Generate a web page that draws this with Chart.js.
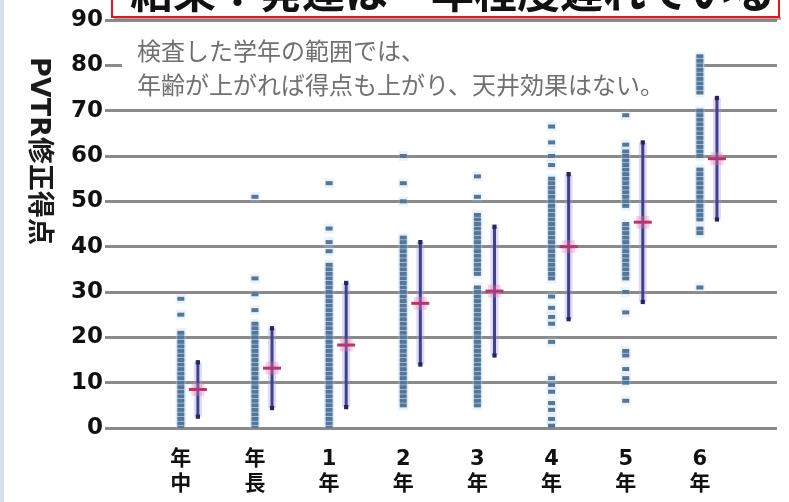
<!DOCTYPE html>
<html lang="ja">
<head>
<meta charset="utf-8">
<script src="https://cdn.jsdelivr.net/npm/chart.js@4/dist/chart.umd.min.js"></script>
<style>
  html, body { margin: 0; padding: 0; background: #fff; }
  #wrap { width: 789px; height: 502px; position: relative; }
</style>
</head>
<body>
<div id="wrap"><canvas id="chart"></canvas></div>
<script>
// grade labels on the x axis
const grades = ['年中', '年長', '1年', '2年', '3年', '4年', '5年', '6年'];

// individual scores per grade
const dotsNenchu = [0, 1, 2, 3, 4, 5, 6, 7, 8, 9, 10, 11, 12, 13, 14, 15, 16, 17, 18, 19, 20, 21, 25, 28.5];
const dotsNencho = [0, 1, 2, 3, 4, 5, 6, 7, 8, 9, 10, 11, 12, 13, 14, 15, 16, 17, 18, 19, 20, 21, 22, 23, 26, 29.5, 33, 51];
const dots1 = [0, 1, 2, 3, 4, 5, 6, 7, 8, 9, 10, 11, 12, 13, 14, 15, 16, 17, 18, 19, 20, 21, 22, 23, 24, 25, 26, 27, 28, 29, 30, 31, 32, 33, 34, 35, 36, 39, 41, 44, 54];
const dots2 = [5, 6, 7, 8, 9, 10, 11, 12, 13, 14, 15, 16, 17, 18, 19, 20, 21, 22, 23, 24, 25, 26, 27, 28, 29, 30, 31, 32, 33, 34, 35, 36, 37, 38, 39, 40, 41, 42, 50, 54, 60];
const dots3 = [5, 6, 7, 8, 9, 10, 11, 12, 13, 14, 15, 16, 17, 18, 19, 20, 21, 22, 23, 24, 25, 26, 27, 28, 29, 30, 31, 34, 35, 36, 37, 38, 39, 40, 41, 42, 43, 44, 45, 46, 47, 51, 55.5];
const dots4 = [0.5, 2, 4, 5.5, 8, 9.5, 11, 19, 23, 24.5, 26.5, 29, 33, 34, 35, 36, 37, 38, 39, 40, 41, 42, 43, 44, 45, 46, 47, 48, 49, 50, 51, 52, 53, 54, 55, 58, 60, 63, 66.5];
const dots5 = [6, 10, 11, 13, 16, 17, 25.5, 30, 33, 34, 35, 36, 37, 38, 39, 40, 41, 42, 43, 44, 45, 49, 50, 51, 52, 53, 54, 55, 56, 57, 58, 59, 60, 61, 62.5, 69];
const dots6 = [31, 43, 44, 46, 47, 48, 49, 50, 51, 52, 53, 54, 55, 56, 57, 60, 61, 62, 63, 64, 65, 66, 67, 68, 69, 70, 74, 75, 76, 77, 78, 79, 80, 81, 82];
const dotColumns = [dotsNenchu, dotsNencho, dots1, dots2, dots3, dots4, dots5, dots6];

// mean and SD per grade
const means = [8.5, 13.2, 18.3, 27.5, 30.2, 40.0, 45.4, 59.4];
const sds = [6.0, 8.8, 13.7, 13.5, 14.2, 16.0, 17.6, 13.4];

const yTicks = [0, 10, 20, 30, 40, 50, 60, 70, 80, 90];
const titleText = '結果：発達は一年程度遅れている';
const noteLines = ['検査した学年の範囲では、', '年齢が上がれば得点も上がり、天井効果はない。'];
const yTitle = 'PVTR修正得点';

const barShift = 0.23; // mean/SD bar sits right of the dot column
const cjk = '"DejaVu Sans", "Noto Sans CJK JP", sans-serif';

const dotPoints = [];
dotColumns.forEach((col, i) => col.forEach(v => dotPoints.push({ x: i, y: v })));
const meanPoints = means.map((m, i) => ({ x: i + barShift, y: m }));

const sdBars = means.map((m, i) => ({
    data: [{ x: i + barShift, y: m - sds[i] }, { x: i + barShift, y: m + sds[i] }],
    showLine: true,
    borderColor: '#3f4189',
    borderWidth: 3,
    pointStyle: 'rect',
    pointRadius: 3,
    pointBackgroundColor: '#25275c',
    pointBorderWidth: 0,
}));
const sdGlow = means.map((m, i) => ({
    data: [{ x: i + barShift, y: m - sds[i] }, { x: i + barShift, y: m + sds[i] }],
    showLine: true,
    borderColor: 'rgba(160,150,225,0.35)',
    borderWidth: 8,
    pointRadius: 0,
}));

const decorations = {
    id: 'decorations',
    beforeDatasetsDraw(chart) {
        const ctx = chart.ctx;
        ctx.save();
        // white panel behind the note (hides the 80 line)
        ctx.fillStyle = '#fff';
        ctx.fillRect(122, 26, 582, 76);
        ctx.fillStyle = '#707070';
        ctx.font = '24px "Noto Sans CJK JP"';
        ctx.textBaseline = 'middle';
        ctx.fillText(noteLines[0], 137, 51);
        ctx.fillText(noteLines[1], 137, 85);
        ctx.restore();
    },
    afterDraw(chart) {
        const ctx = chart.ctx;
        ctx.save();
        // left slide edge
        ctx.fillStyle = '#d5e1ee';
        ctx.fillRect(0, 0, 4, 502);
        // title box, cut off at the top
        ctx.fillStyle = 'rgba(120,120,120,0.6)';
        ctx.fillRect(114, 17, 667, 3);
        ctx.fillStyle = '#fff';
        ctx.fillRect(112, -10, 667, 27);
        ctx.strokeStyle = '#e8141b';
        ctx.lineWidth = 2;
        ctx.strokeRect(112, -10, 667, 27);
        ctx.fillStyle = '#111';
        ctx.font = 'bold 43px "Noto Sans CJK JP"';
        ctx.textBaseline = 'alphabetic';
        ctx.fillText(titleText, 130, 8);
        // y axis title, read top to bottom
        ctx.translate(38, 151);
        ctx.rotate(Math.PI / 2);
        ctx.fillStyle = '#1a1a1a';
        ctx.font = 'bold 27px ' + cjk;
        ctx.textAlign = 'center';
        ctx.textBaseline = 'middle';
        ctx.fillText(yTitle, 0, 0);
        ctx.restore();
    }
};

new Chart(document.getElementById('chart'), {
    type: 'scatter',
    data: {
        datasets: [
            {
                data: meanPoints,
                pointStyle: 'line',
                pointRadius: 9,
                borderColor: '#b8336f',
                pointBorderWidth: 3,
            },
            {
                data: meanPoints,
                pointStyle: 'rect',
                pointRadius: 9,
                backgroundColor: 'rgba(240,120,175,0.35)',
                pointBorderWidth: 0,
            },
            ...sdBars,
            ...sdGlow,
            {
                data: dotPoints,
                pointStyle: 'line',
                pointRadius: 3.5,
                borderColor: '#557699',
                pointBorderWidth: 4,
            },
            {
                data: dotPoints,
                pointStyle: 'rect',
                pointRadius: 7,
                backgroundColor: 'rgba(160,200,240,0.22)',
                pointBorderWidth: 0,
            },
        ],
    },
    options: {
        responsive: true,
        maintainAspectRatio: false,
        animation: false,
        layout: { padding: { top: 20, left: 0, right: 0, bottom: 0 } },
        plugins: { legend: { display: false }, tooltip: { enabled: false } },
        scales: {
            x: {
                type: 'linear',
                min: -0.82,
                max: 8.04,
                grid: { display: false },
                border: { display: false },
                afterBuildTicks: (scale) => { scale.ticks = grades.map((g, i) => ({ value: i })); },
                afterFit: (scale) => { scale.height = 74; },
                ticks: {
                    autoSkip: false,
                    maxRotation: 0,
                    padding: 11,
                    color: '#111',
                    font: { family: cjk, size: 21, weight: 'bold', lineHeight: 1.2 },
                    callback: (value) => grades[value] ? grades[value].split('') : '',
                },
            },
            y: {
                min: 0,
                max: 90,
                afterBuildTicks: (scale) => { scale.ticks = yTicks.map(v => ({ value: v })); },
                afterFit: (scale) => { scale.width = 120; },
                grid: { color: '#8a8a8a', lineWidth: 3, tickLength: 15 },
                border: { display: false },
                ticks: {
                    padding: 2,
                    color: '#111',
                    font: { family: '"DejaVu Sans"', size: 23, weight: 'bold' },
                },
            },
        },
    },
    plugins: [decorations],
});
</script>
</body>
</html>
